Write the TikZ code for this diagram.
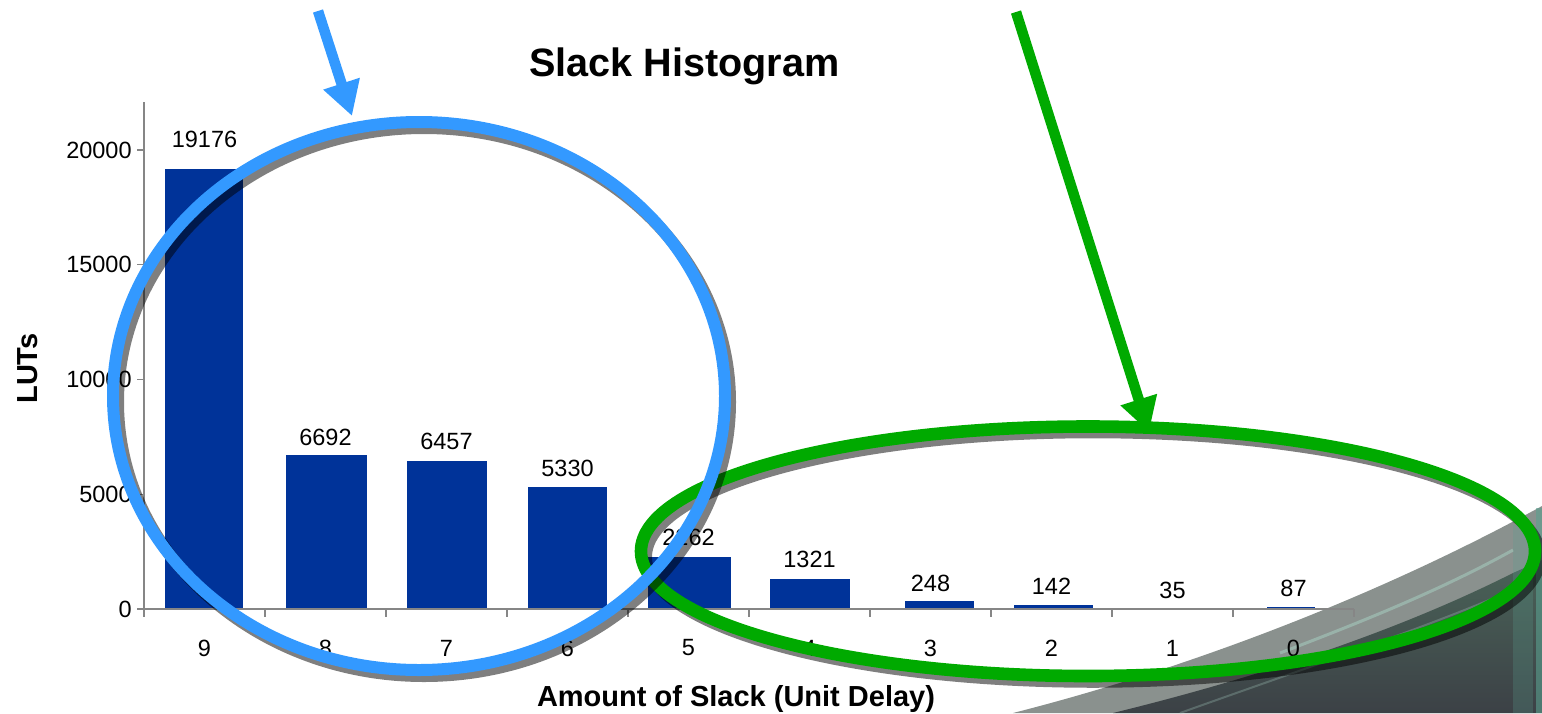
\documentclass[tikz,border=0pt]{standalone}
\usepackage{fontspec}
\setmainfont{Liberation Sans}
\usetikzlibrary{arrows.meta}
\definecolor{barblue}{HTML}{003399}
\definecolor{ringblue}{HTML}{3399FF}
\definecolor{ringgreen}{HTML}{00AA00}
\definecolor{axisgray}{HTML}{868686}
\definecolor{bandgray}{HTML}{8A918E}
\definecolor{darkgreengray}{HTML}{4A6358}
\definecolor{darkslate}{HTML}{3C4146}
\definecolor{streak}{HTML}{A3C8BC}
\definecolor{tealedge}{HTML}{5AA08F}
\begin{document}
\begin{tikzpicture}[x=0.5pt,y=-0.5pt,
  numlabel/.style={inner sep=0pt, font=\fontsize{11.75}{14}\selectfont},
  bigtitle/.style={inner sep=0pt, font=\fontsize{19.8}{24}\selectfont\bfseries},
  axistitle/.style={inner sep=0pt, font=\fontsize{14.5}{17}\selectfont\bfseries},
  barfill/.style={fill=barblue},
  axisline/.style={draw=axisgray, line width=0.7pt},
  ringshadow/.style={draw=black, draw opacity=0.5, line width=6pt},
  bluering/.style={draw=ringblue, line width=6pt},
  greenring/.style={draw=ringgreen, line width=6.3pt},
  bigarrow/.style={line width=5.25pt, -{Triangle[width=18pt,length=17pt]}}]
\useasboundingbox (0,0) rectangle (1542,713);

% background decoration (bottom right)
\fill[bandgray] (1013,713) .. controls (1190,668) and (1380,595) .. (1542,506) -- (1542,713) -- cycle;
\shade[top color=darkgreengray, bottom color=darkslate] (1113,713) .. controls (1260,677) and (1400,630) .. (1513,573) -- (1542,560) -- (1542,713) -- cycle;
\draw[streak, line width=1.5pt, opacity=0.6] (1280,653) .. controls (1380,615) and (1450,585) .. (1513,550);
\draw[streak, line width=1pt, opacity=0.3] (1180,713) .. controls (1300,670) and (1420,630) .. (1513,590);
\fill[tealedge, opacity=0.25] (1513,525) rectangle (1533,713);
\fill[tealedge, opacity=0.6] (1536,508) rectangle (1542,713);

% bars (left, right, top) and labels
\foreach \i/\v/\bl/\br/\bartop/\s/\ly in {0/19176/165/243/168.91/9/139, 1/6692/286/367/455.42/8/437,
    2/6457/407/487/460.81/7/441, 3/5330/528/607/486.68/6/468, 4/2262/648/731/557.09/5/537,
    5/1321/770/850/578.68/4/559, 6/248/905/974/601/3/583, 7/142/1014/1093/604.5/2/586,
    8/35/1145/1195/608/1/590, 9/87/1267/1315/607/0/588} {
  \pgfmathsetmacro\cx{204.5+121*\i}
  \fill[barfill] (\bl,609) rectangle (\br,\bartop);
  \node[numlabel] (val\i) at (\cx,\ly) {\v};
  \node[numlabel] (slack\i) at (\cx,648) {\s};
}

% axes
\draw[axisline] (144,102) -- (144,609) -- (1354,609);
\foreach \k in {0,...,10} {
  \draw[axisline] ({144+121*\k},609) -- ({144+121*\k},617);
}
\foreach \k/\t in {0/0, 1/5000, 2/10000, 3/15000, 4/20000} {
  \pgfmathsetmacro\yy{609-114.75*\k}
  \draw[axisline] (137,\yy) -- (144,\yy);
  \node[numlabel, anchor=east] (ytick\k) at (132,\yy) {\t};
}

% titles
\node[bigtitle, anchor=base] (title) at (684.5,76) {Slack Histogram};
\node[axistitle, anchor=base] (xtitle) at (736,706) {Amount of Slack (Unit Delay)};
\node[axistitle, anchor=base, rotate=90] (ytitle) at (38,368.5) {LUTs};

% green ring
\draw[ringshadow] (1093,557) ellipse [x radius=447, y radius=124.75];
\draw[greenring] (1088,551.25) ellipse [x radius=447, y radius=124.75];

% blue ring
\draw[ringshadow] (424,402) ellipse [x radius=306, y radius=274];
\draw[bluering] (419,396) ellipse [x radius=306, y radius=274];

% arrows
\coordinate (bluestart) at (318,11);
\coordinate (bluetip) at (352,116);
\coordinate (greenstart) at (1016,12);
\coordinate (greentip) at (1149,432);
\draw[bigarrow, ringblue] (bluestart) -- (bluetip);
\draw[bigarrow, ringgreen] (greenstart) -- (greentip);
\end{tikzpicture}
\end{document}
